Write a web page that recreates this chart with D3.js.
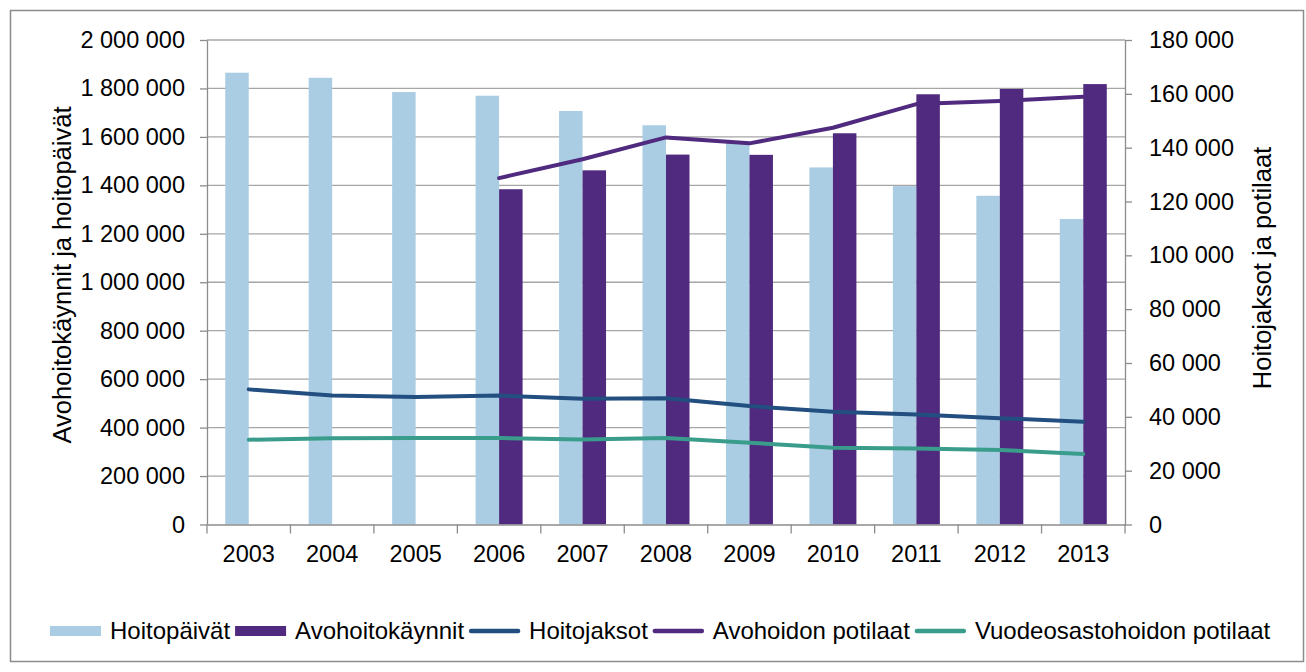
<!DOCTYPE html>
<html>
<head>
<meta charset="utf-8">
<script src="https://cdn.jsdelivr.net/npm/d3@7"></script>
<style>
  body { margin: 0; background: #fff; }
  svg { display: block; font-family: "Liberation Sans", Arial, sans-serif; }
</style>
</head>
<body>
<div id="chart"></div>
<script>
const years = ['2003', '2004', '2005', '2006', '2007', '2008', '2009', '2010', '2011', '2012', '2013'];

// left axis (bars)
const hoitopaivat = [1865000, 1844000, 1785000, 1770000, 1707000, 1648000, 1575000, 1474000, 1397000, 1357000, 1261000];
const avohoitokaynnit = [null, null, null, 1384000, 1462000, 1527000, 1526000, 1615000, 1776000, 1798000, 1818000];

// right axis (lines)
const hoitojaksot = [50200, 47900, 47400, 47900, 46700, 46900, 44000, 41900, 40900, 39500, 38200];
const avohoidonPotilaat = [null, null, null, 128700, 135700, 143800, 141600, 147400, 156200, 157300, 158900];
const vuodeosastoPotilaat = [31500, 32000, 32100, 32100, 31600, 32100, 30400, 28500, 28200, 27700, 26200];

const leftTicks = d3.range(0, 2000001, 200000);
const rightTicks = d3.range(0, 180001, 20000);

const width = 1306, height = 672;
const plot = { left: 207, right: 1125, top: 40, bottom: 524.5 };
const fontSize = '23.5px';

const fiFormat = d3.formatLocale({ decimal: ',', thousands: ' ', grouping: [3], currency: ['', ''] }).format(',');

const svg = d3.select('#chart').append('svg')
    .attr('width', width)
    .attr('height', height);

// outer frame
svg.append('rect')
    .attr('x', 10.5).attr('y', 10.5)
    .attr('width', 1293).attr('height', 651)
    .attr('fill', '#fff')
    .attr('stroke', '#8c8c8c')
    .attr('stroke-width', 1.5);

const x = d3.scaleBand().domain(years).range([plot.left, plot.right]).padding(0);
const xSeries = d3.scaleBand().domain(['hp', 'ak']).range([0, x.bandwidth()]).paddingInner(0).paddingOuter(0.776);
const yL = d3.scaleLinear().domain([0, 2000000]).range([plot.bottom, plot.top]);
const yR = d3.scaleLinear().domain([0, 180000]).range([plot.bottom, plot.top]);

// gridlines
svg.append('g')
    .selectAll('line')
    .data(leftTicks.slice(1))
    .join('line')
    .attr('x1', plot.left).attr('x2', plot.right)
    .attr('y1', d => yL(d)).attr('y2', d => yL(d))
    .attr('stroke', '#a6a6a6')
    .attr('stroke-width', 1.3);

// bars
const barData = [];
years.forEach((yr, i) => {
    barData.push({ year: yr, key: 'hp', value: hoitopaivat[i] });
    if (avohoitokaynnit[i] != null) barData.push({ year: yr, key: 'ak', value: avohoitokaynnit[i] });
});
const barColor = { hp: '#abcde4', ak: '#4f2a7e' };

svg.append('g')
    .selectAll('rect')
    .data(barData)
    .join('rect')
    .attr('x', d => x(d.year) + xSeries(d.key))
    .attr('width', xSeries.bandwidth())
    .attr('y', d => yL(d.value))
    .attr('height', d => yL(0) - yL(d.value))
    .attr('fill', d => barColor[d.key]);

// axes
const axisColor = '#8c8c8c';
function styleAxis(g) {
    g.select('.domain').attr('stroke', axisColor).attr('stroke-width', 1.3);
    g.selectAll('.tick line').attr('stroke', axisColor).attr('stroke-width', 1.3);
    g.selectAll('.tick text').attr('fill', '#000').style('font-size', fontSize);
}

svg.append('g')
    .attr('transform', `translate(${plot.left},0)`)
    .call(d3.axisLeft(yL).tickValues(leftTicks).tickFormat(fiFormat).tickSizeInner(7).tickSizeOuter(0).tickPadding(15))
    .call(styleAxis);

svg.append('g')
    .attr('transform', `translate(${plot.right},0)`)
    .call(d3.axisRight(yR).tickValues(rightTicks).tickFormat(fiFormat).tickSizeInner(7).tickSizeOuter(0).tickPadding(17))
    .call(styleAxis);

const xAxis = svg.append('g')
    .attr('transform', `translate(0,${plot.bottom})`)
    .call(d3.axisBottom(x).tickSize(0).tickPadding(21))
    .call(styleAxis);

// category separator ticks on the x axis
xAxis.append('g')
    .selectAll('line')
    .data(years.map(d => x(d)).concat([plot.right]))
    .join('line')
    .attr('x1', d => d).attr('x2', d => d)
    .attr('y1', 0).attr('y2', 9)
    .attr('stroke', axisColor)
    .attr('stroke-width', 1.3);

// lines
const lineSeries = [
    { name: 'Hoitojaksot', values: hoitojaksot, color: '#224e80' },
    { name: 'Avohoidon potilaat', values: avohoidonPotilaat, color: '#4f2a7e' },
    { name: 'Vuodeosastohoidon potilaat', values: vuodeosastoPotilaat, color: '#3a9d8c' }
];

const line = d3.line()
    .defined(d => d.v != null)
    .x(d => x(d.year) + x.bandwidth() / 2)
    .y(d => yR(d.v));

svg.append('g')
    .selectAll('path')
    .data(lineSeries)
    .join('path')
    .attr('d', s => line(years.map((yr, i) => ({ year: yr, v: s.values[i] }))))
    .attr('fill', 'none')
    .attr('stroke', s => s.color)
    .attr('stroke-width', 4)
    .attr('stroke-linecap', 'round')
    .attr('stroke-linejoin', 'round');

// axis titles
svg.append('text')
    .attr('transform', 'translate(71,275) rotate(-90)')
    .attr('text-anchor', 'middle')
    .style('font-size', '25.5px')
    .text('Avohoitokäynnit ja hoitopäivät');

svg.append('text')
    .attr('transform', 'translate(1271,268) rotate(-90)')
    .attr('text-anchor', 'middle')
    .style('font-size', '25.5px')
    .text('Hoitojaksot ja potilaat');

// legend
const legendItems = [
    { name: 'Hoitopäivät', color: '#abcde4', type: 'bar' },
    { name: 'Avohoitokäynnit', color: '#4f2a7e', type: 'bar' },
    { name: 'Hoitojaksot', color: '#224e80', type: 'line' },
    { name: 'Avohoidon potilaat', color: '#4f2a7e', type: 'line' },
    { name: 'Vuodeosastohoidon potilaat', color: '#3a9d8c', type: 'line' }
];

const legend = svg.append('g').attr('transform', 'translate(0,631)');
let lx = 50;
legendItems.forEach(item => {
    if (item.type === 'bar') {
        legend.append('rect')
            .attr('x', lx).attr('y', -5)
            .attr('width', 51).attr('height', 10)
            .attr('fill', item.color);
    } else {
        legend.append('line')
            .attr('x1', lx + 2).attr('x2', lx + 49)
            .attr('y1', 0).attr('y2', 0)
            .attr('stroke', item.color)
            .attr('stroke-width', 4.5)
            .attr('stroke-linecap', 'round');
    }
    const t = legend.append('text')
        .attr('x', lx + 60)
        .attr('dy', '0.35em')
        .style('font-size', '24px')
        .text(item.name);
    lx += 60 + t.node().getComputedTextLength() + 5;
});
</script>
</body>
</html>
